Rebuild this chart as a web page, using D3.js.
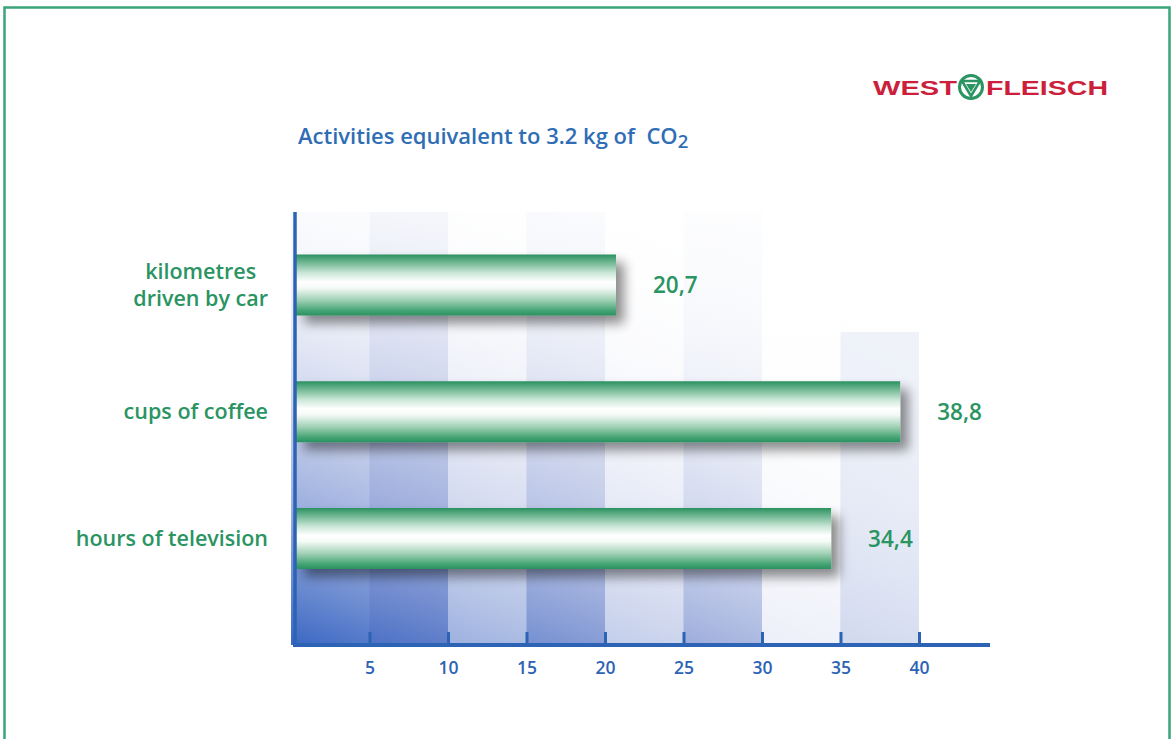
<!DOCTYPE html>
<html><head><meta charset="utf-8">
<script src="https://cdn.jsdelivr.net/npm/d3@7"></script>
<style>body{margin:0;background:#fff;}svg{display:block;}</style>
</head><body><svg id="c" width="1171" height="739"></svg>
<script>
const categories = [["kilometres","driven by car"],["cups of coffee"],["hours of television"]];
const values = [20.7, 38.8, 34.4];
const valueLabels = ["20,7","38,8","34,4"];
const ticks = [5,10,15,20,25,30,35,40];
const title = "Activities equivalent to 3.2 kg of  CO";

(function(){
const svg = d3.select("#c");
const defs = svg.append("defs");
const green = "#2a9462", blue = "#2c63b4";
const FONT = "'Open Sans', Lato, sans-serif";

svg.append("path").attr("d","M4.5,739 V7.5 H1169.5 V739").attr("fill","none").attr("stroke","#3aa57a").attr("stroke-width",2.5);

const x = d3.scaleLinear().domain([0,40]).range([291,919]);
const y = d3.scalePoint().domain(d3.range(values.length)).range([285,538.5]);
const yTop = 212, yBot = 645;

const bg = defs.append("linearGradient").attr("id","bg").attr("x1","0").attr("y1","1").attr("x2","0.75").attr("y2","0");
bg.append("stop").attr("offset","0").attr("stop-color","#2f5fc0").attr("stop-opacity",0.95);
bg.append("stop").attr("offset","0.35").attr("stop-color","#6f86cc").attr("stop-opacity",0.55);
bg.append("stop").attr("offset","0.75").attr("stop-color","#c8d0ec").attr("stop-opacity",0.2);
bg.append("stop").attr("offset","1").attr("stop-color","#ffffff").attr("stop-opacity",0);
const fade = defs.append("linearGradient").attr("id","fade").attr("x1","0").attr("y1","0").attr("x2","0").attr("y2","1");
fade.append("stop").attr("offset","0").attr("stop-color","#fff").attr("stop-opacity",1);
fade.append("stop").attr("offset","0.5").attr("stop-color","#fff").attr("stop-opacity",0.35);
fade.append("stop").attr("offset","1").attr("stop-color","#fff").attr("stop-opacity",0);

svg.append("rect").attr("x",x(0)).attr("y",yTop).attr("width",x(40)-x(0)).attr("height",yBot-yTop).attr("fill","url(#bg)");
const bandEdges = [0].concat(ticks);
const bandShade = [0,0.18,-0.35,0.1,-0.45,0.05,-0.75,0];
bandEdges.slice(0,-1).forEach((v,i)=>{
  const s = bandShade[i];
  if (s===0) return;
  svg.append("rect").attr("x",x(v)).attr("y",yTop).attr("width",x(bandEdges[i+1])-x(v)).attr("height",yBot-yTop)
    .attr("fill", s>0 ? "#3050b0" : "#ffffff").attr("opacity", Math.abs(s));
});
svg.append("rect").attr("x",x(0)).attr("y",yTop).attr("width",x(40)-x(0)+2).attr("height",yBot-yTop).attr("fill","url(#fade)").attr("opacity",0.8);
svg.append("rect").attr("x",x(35)).attr("y",yTop+120).attr("width",x(40)-x(35)).attr("height",yBot-yTop-120).attr("fill","#dfe5f3").attr("opacity",0.5);

const bgG = defs.append("linearGradient").attr("id","bar").attr("x1","0").attr("y1","0").attr("x2","0").attr("y2","1");
[[0,"#2a9160"],[0.1,"#5fae86"],[0.3,"#c9e6d6"],[0.45,"#ffffff"],[0.55,"#f4faf6"],[0.75,"#9fd0b4"],[0.92,"#45a474"],[1,"#2a9160"]]
  .forEach(([o,c])=>bgG.append("stop").attr("offset",o).attr("stop-color",c));
const f = defs.append("filter").attr("id","sh").attr("x","-10%").attr("y","-30%").attr("width","130%").attr("height","170%");
f.append("feGaussianBlur").attr("in","SourceAlpha").attr("stdDeviation",6).attr("result","b");
f.append("feOffset").attr("in","b").attr("dx",8).attr("dy",8).attr("result","o");
f.append("feComponentTransfer").attr("in","o").attr("result","o2").append("feFuncA").attr("type","linear").attr("slope",0.45);
const m = f.append("feMerge"); m.append("feMergeNode").attr("in","o2"); m.append("feMergeNode").attr("in","SourceGraphic");

const bh = 61;
svg.selectAll("rect.bar").data(values).join("rect").attr("class","bar")
  .attr("x",x(0)+5).attr("y",(d,i)=>y(i)-bh/2)
  .attr("width",d=>x(d)-x(0)-5).attr("height",bh)
  .attr("fill","url(#bar)").attr("filter","url(#sh)");

svg.selectAll("text.val").data(values).join("text").attr("class","val")
  .attr("x",d=>x(d)+37).attr("y",(d,i)=>y(i)+8)
  .attr("fill",green).attr("font-family",FONT).attr("font-weight","600").attr("font-size",22.5)
  .text((d,i)=>valueLabels[i]);

categories.forEach((lines,i)=>{
  const cy = y(i);
  const t = svg.append("text").attr("fill",green).attr("font-family",FONT).attr("font-weight","600").attr("font-size",21.5);
  const n = lines.length;
  lines.forEach((l,j)=>t.append("tspan").attr("x",0).attr("y",cy+7+(j-(n-1)/2)*27).text(l));
  if (n>1){
    let w=0; t.selectAll("tspan").each(function(){w=Math.max(w,this.getComputedTextLength());});
    t.attr("text-anchor","middle").selectAll("tspan").attr("x",268-w/2);
  } else t.attr("text-anchor","end").selectAll("tspan").attr("x",268);
});

const ax = svg.append("g").attr("transform",`translate(0,${yBot})`)
  .call(d3.axisBottom(x).tickValues(ticks).tickSize(0).tickPadding(17));
ax.select(".domain").remove();
ax.selectAll("text").attr("fill",blue).attr("font-family",FONT).attr("font-size",17.5).attr("font-weight","600");
ax.selectAll(".tick").append("line").attr("y1",-13).attr("y2",0).attr("stroke",blue).attr("stroke-width",3);
svg.append("line").attr("x1",293).attr("x2",990).attr("y1",yBot).attr("y2",yBot).attr("stroke",blue).attr("stroke-width",4);
svg.append("line").attr("x1",295).attr("x2",295).attr("y1",yTop).attr("y2",yBot+1).attr("stroke",blue).attr("stroke-width",3.5);

const tt = svg.append("text").attr("x",298).attr("y",144).attr("fill","#2f6db5").style("white-space","pre")
  .attr("font-family",FONT).attr("font-size",22).attr("font-weight","600").text(title);
tt.append("tspan").attr("font-size",18.5).attr("dy",4).text("2");

const lg = svg.append("g").attr("font-family","'Liberation Sans', Arial, sans-serif").attr("font-weight","900").attr("font-size",21).attr("fill","#cc1f3c");
lg.append("text").attr("x",873).attr("y",95).attr("textLength",84).attr("lengthAdjust","spacingAndGlyphs").text("WEST");
lg.append("text").attr("x",986).attr("y",95).attr("textLength",122).attr("lengthAdjust","spacingAndGlyphs").text("FLEISCH");
svg.append("circle").attr("cx",971).attr("cy",87).attr("r",11.5).attr("fill","none").attr("stroke","#2a9462").attr("stroke-width",3);
svg.append("path").attr("d","M962,81 L980,81 L971,96 Z").attr("fill","none").attr("stroke","#2a9462").attr("stroke-width",2.5).attr("stroke-linejoin","round");
svg.append("path").attr("d","M966,84 L976,84 L971,92 Z").attr("fill","#2a9462");
})();
</script></body></html>
